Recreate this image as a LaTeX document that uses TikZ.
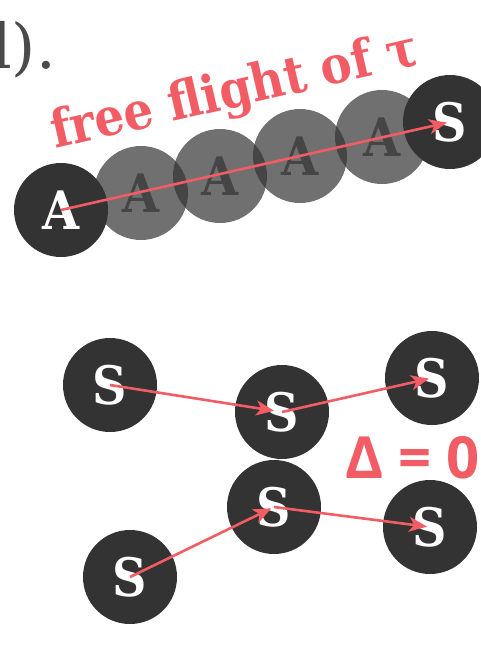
\documentclass[tikz,border=0pt]{standalone}
\usepackage{fontspec}
\setmainfont{DejaVu Serif}
\newfontfamily\condfont{DejaVu Serif Condensed}
\newfontfamily\deltafont{Open Sans}
\usetikzlibrary{arrows.meta}
\definecolor{dark}{HTML}{333333}
\definecolor{ghostletter}{HTML}{454545}
\definecolor{accent}{HTML}{F25C64}
\definecolor{prevtext}{HTML}{4A4A4A}
\begin{document}
\begin{tikzpicture}[x=1pt,y=-1pt,
  ball/.style={circle, fill=dark, minimum size=94pt, inner sep=0pt, text=white,
    font=\condfont\bfseries\fontsize{53}{53}\selectfont},
  ghost/.style={circle, fill=dark, fill opacity=0.7, text opacity=1, minimum size=94pt,
    inner sep=0pt, text=ghostletter, font=\condfont\bfseries\fontsize{53}{53}\selectfont},
  flight/.style={draw=accent, line width=2.6pt, shorten >=3pt,
    -{Stealth[length=18pt,width=15pt,inset=5pt]}},
  label/.style={text=accent, inner sep=0pt}]
\useasboundingbox (0,0) rectangle (481,648);
% previous text fragment
\node[anchor=base east, inner sep=0pt, text=prevtext, font=\fontsize{62}{62}\selectfont] (prev) at (56,68) {d).};
% top: free flight
\node[ghost] (g1) at (141,193) {A};
\node[ghost] (g2) at (220,176) {A};
\node[ghost] (g3) at (300,156) {A};
\node[ghost] (g4) at (382,137) {A};
\node[ball] (a) at (61,210) {A};
\node[ball] (s) at (450,122) {S};
\draw[flight] (a.center) -- (s.center);
\node[label, anchor=base west, rotate=13, font=\condfont\bfseries\fontsize{52}{52}\selectfont] (ff) at (55,149) {free flight of τ};
% bottom
\node[ball] (s1) at (110,385) {S};
\node[ball] (s2) at (282,412) {S};
\node[ball] (s3) at (432,378) {S};
\node[ball] (s4) at (274,507) {S};
\node[ball] (s5) at (430,527) {S};
\node[ball] (s6) at (130,577) {S};
\draw[flight, shorten >=8pt] (s1.center) -- (s2.center);
\draw[flight] (s2.center) -- (s3.center);
\draw[flight] (s6.center) -- (s4.center);
\draw[flight] (s4.center) -- (s5.center);
\node[label, anchor=base west, font=\deltafont\bfseries\fontsize{58}{58}\selectfont] (delta) at (345,478) {Δ = 0};
\end{tikzpicture}
\end{document}
